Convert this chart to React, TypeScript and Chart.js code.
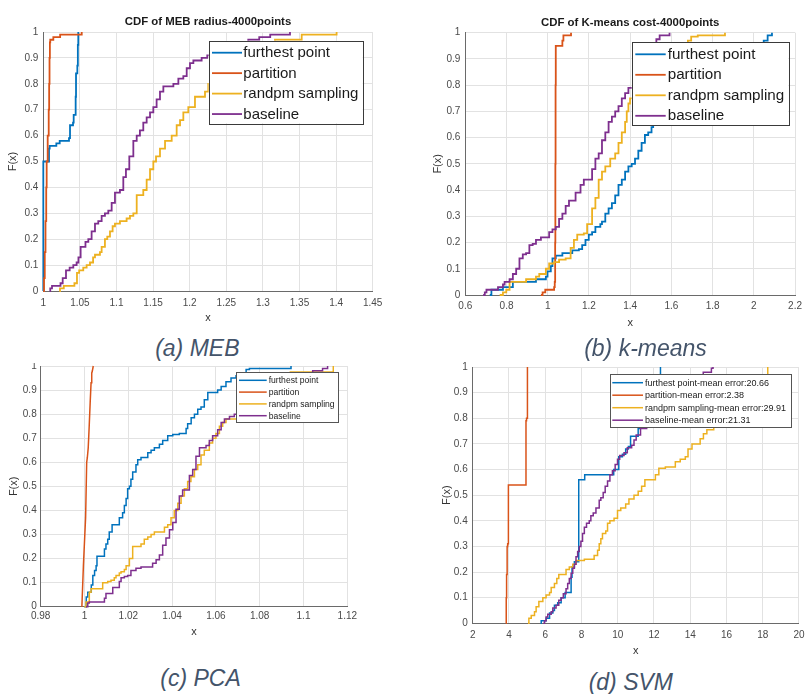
import React, { useEffect, useRef } from 'react';
import { Chart, registerables } from 'chart.js';

Chart.register(...registerables);

const FONT = '"Liberation Sans", Arial, Helvetica, sans-serif';
Chart.defaults.font.family = FONT;

// ---------- shared ----------
const seriesColors = ['#0072BD', '#D95319', '#EDB120', '#7E2F8E'];
const seriesNames = ['furthest point', 'partition', 'randpm sampling', 'baseline'];
const svmMeanErrors = ['20.66', '2.38', '29.91', '21.31'];

const yTicks = [0, 0.1, 0.2, 0.3, 0.4, 0.5, 0.6, 0.7, 0.8, 0.9, 1];
const yTickLabels = ['0', '0.1', '0.2', '0.3', '0.4', '0.5', '0.6', '0.7', '0.8', '0.9', '1'];

// ---------- (a) MEB ----------
const mebXTicks = [1, 1.05, 1.1, 1.15, 1.2, 1.25, 1.3, 1.35, 1.4, 1.45];
const mebXTickLabels = ['1', '1.05', '1.1', '1.15', '1.2', '1.25', '1.3', '1.35', '1.4', '1.45'];

const mebFurthestX = [1.0, 1.0, 1.0078, 1.0087, 1.0178, 1.0224, 1.0351, 1.0365, 1.0406, 1.0415, 1.0442, 1.0447, 1.0465, 1.0472, 1.0478];
const mebFurthestF = [0, 0.5, 0.55, 0.56, 0.57, 0.58, 0.59, 0.64, 0.65, 0.68, 0.75, 0.84, 0.87, 0.95, 1.0];

const mebPartitionX = [1.0, 1.001, 1.002, 1.003, 1.004, 1.0046, 1.006, 1.0074, 1.008, 1.0085, 1.009, 1.0095, 1.0137, 1.023, 1.0525];
const mebPartitionF = [0, 0.05, 0.15, 0.27, 0.4, 0.5, 0.6, 0.7, 0.8, 0.9, 0.96, 0.97, 0.98, 0.99, 1.0];

const mebRandomX = [1.0219, 1.0228, 1.028, 1.0425, 1.046, 1.049, 1.0546, 1.0592, 1.0638, 1.068, 1.0706, 1.0774, 1.0797, 1.0842, 1.0874, 1.0911, 1.0947, 1.0979, 1.1047, 1.1138, 1.1184, 1.123, 1.1276, 1.1366, 1.1412, 1.1458, 1.1503, 1.154, 1.1594, 1.1663, 1.1754, 1.1822, 1.1868, 1.1913, 1.1981, 1.2072, 1.2209, 1.2254, 1.24, 1.26, 1.285, 1.3165, 1.353, 1.4007];
const mebRandomF = [0, 0.01, 0.02, 0.03, 0.07, 0.08, 0.09, 0.1, 0.11, 0.13, 0.14, 0.15, 0.17, 0.2, 0.21, 0.23, 0.25, 0.26, 0.27, 0.28, 0.29, 0.3, 0.37, 0.39, 0.43, 0.47, 0.5, 0.52, 0.55, 0.58, 0.6, 0.64, 0.66, 0.69, 0.71, 0.75, 0.77, 0.8, 0.85, 0.9, 0.94, 0.97, 0.99, 1.0];

const mebBaselineX = [1.0087, 1.0095, 1.0119, 1.0235, 1.0265, 1.031, 1.036, 1.041, 1.0455, 1.048, 1.051, 1.0576, 1.0615, 1.066, 1.0706, 1.0751, 1.0797, 1.0842, 1.0888, 1.0934, 1.0979, 1.1047, 1.1093, 1.1129, 1.1175, 1.123, 1.1276, 1.132, 1.1366, 1.1412, 1.1458, 1.1503, 1.1548, 1.1594, 1.164, 1.1777, 1.1845, 1.1913, 1.1959, 1.2004, 1.205, 1.2163, 1.224, 1.24, 1.255, 1.27, 1.28, 1.295, 1.31, 1.337];
const mebBaselineF = [0, 0.01, 0.02, 0.03, 0.05, 0.08, 0.09, 0.1, 0.11, 0.13, 0.17, 0.19, 0.2, 0.23, 0.26, 0.27, 0.29, 0.3, 0.31, 0.34, 0.38, 0.39, 0.44, 0.47, 0.52, 0.58, 0.6, 0.62, 0.65, 0.67, 0.69, 0.71, 0.74, 0.77, 0.79, 0.8, 0.82, 0.83, 0.86, 0.88, 0.89, 0.9, 0.91, 0.93, 0.95, 0.96, 0.97, 0.98, 0.99, 1.0];

// ---------- (b) k-means ----------
const kmXTicks = [0.6, 0.8, 1, 1.2, 1.4, 1.6, 1.8, 2, 2.2];
const kmXTickLabels = ['0.6', '0.8', '1', '1.2', '1.4', '1.6', '1.8', '2', '2.2'];

const kmFurthestX = [0.7187, 0.7267, 0.7827, 0.8308, 0.9429, 0.9909, 0.9989, 1.0149, 1.0229, 1.039, 1.071, 1.1191, 1.1511, 1.1671, 1.1831, 1.1991, 1.2152, 1.2312, 1.2552, 1.2632, 1.2793, 1.2953, 1.3113, 1.3273, 1.3433, 1.3594, 1.3754, 1.3914, 1.4074, 1.4235, 1.4395, 1.4555, 1.4715, 1.4875, 1.5036, 1.5116, 1.55, 1.6, 1.68, 1.76, 1.85, 1.95, 2.03, 2.048, 2.067, 2.088];
const kmFurthestF = [0, 0.02, 0.03, 0.05, 0.06, 0.07, 0.09, 0.11, 0.14, 0.15, 0.16, 0.17, 0.175, 0.19, 0.21, 0.23, 0.24, 0.26, 0.27, 0.28, 0.31, 0.33, 0.35, 0.38, 0.42, 0.44, 0.47, 0.49, 0.5, 0.52, 0.55, 0.58, 0.61, 0.62, 0.64, 0.65, 0.7, 0.75, 0.8, 0.85, 0.9, 0.94, 0.96, 0.97, 0.99, 1.0];

const kmPartitionX = [0.967, 0.975, 0.988, 1.031, 1.034, 1.036, 1.037, 1.038, 1.039, 1.071, 1.076, 1.113];
const kmPartitionF = [0, 0.01, 0.02, 0.03, 0.05, 0.2, 0.5, 0.8, 0.95, 0.97, 0.99, 1.0];

const kmRandomX = [0.7667, 0.7827, 0.7988, 0.8148, 0.8949, 0.9429, 0.9589, 0.9909, 1.0069, 1.031, 1.055, 1.087, 1.1111, 1.1271, 1.1431, 1.1751, 1.1911, 1.2152, 1.2312, 1.2472, 1.2632, 1.2793, 1.3033, 1.3273, 1.3433, 1.3594, 1.3754, 1.3834, 1.3914, 1.3994, 1.45, 1.5, 1.56, 1.62, 1.66, 1.68, 1.696, 1.728, 1.86];
const kmRandomF = [0, 0.01, 0.02, 0.05, 0.06, 0.07, 0.08, 0.1, 0.12, 0.125, 0.135, 0.14, 0.18, 0.21, 0.23, 0.235, 0.27, 0.33, 0.37, 0.44, 0.47, 0.49, 0.52, 0.54, 0.58, 0.62, 0.66, 0.7, 0.73, 0.75, 0.8, 0.85, 0.9, 0.94, 0.96, 0.97, 0.985, 0.99, 1.0];

const kmBaselineX = [0.6866, 0.6946, 0.7026, 0.7587, 0.7827, 0.7907, 0.8148, 0.8308, 0.8468, 0.8628, 0.8789, 0.8949, 0.9109, 0.9269, 0.9429, 0.9669, 1.0069, 1.0229, 1.039, 1.055, 1.071, 1.087, 1.1031, 1.1351, 1.1591, 1.1751, 1.2152, 1.2312, 1.2472, 1.2632, 1.2793, 1.2953, 1.3113, 1.3273, 1.3433, 1.3594, 1.3754, 1.3914, 1.43, 1.46, 1.49, 1.51, 1.527, 1.543, 1.591];
const kmBaselineF = [0, 0.01, 0.02, 0.03, 0.04, 0.05, 0.06, 0.08, 0.1, 0.14, 0.155, 0.16, 0.19, 0.195, 0.21, 0.22, 0.24, 0.25, 0.26, 0.29, 0.31, 0.34, 0.36, 0.39, 0.42, 0.44, 0.48, 0.52, 0.54, 0.59, 0.62, 0.66, 0.68, 0.7, 0.72, 0.75, 0.77, 0.79, 0.83, 0.88, 0.93, 0.96, 0.975, 0.99, 1.0];

// ---------- (c) PCA ----------
const pcaXTicks = [0.98, 1, 1.02, 1.04, 1.06, 1.08, 1.1, 1.12];
const pcaXTickLabels = ['0.98', '1', '1.02', '1.04', '1.06', '1.08', '1.1', '1.12'];

const pcaFurthestX = [0.9999, 1.0008, 1.0015, 1.0031, 1.0038, 1.0046, 1.0053, 1.0057, 1.0091, 1.0098, 1.0106, 1.0113, 1.0126, 1.0159, 1.0174, 1.0182, 1.019, 1.0197, 1.0205, 1.0212, 1.022, 1.0235, 1.0243, 1.0258, 1.0289, 1.0304, 1.0319, 1.0342, 1.0357, 1.038, 1.0403, 1.0433, 1.0464, 1.0471, 1.0487, 1.0502, 1.0517, 1.0532, 1.0547, 1.0563, 1.0608, 1.0624, 1.0646, 1.0669, 1.0692, 1.0707, 1.0738, 1.0753, 1.0943];
const pcaFurthestF = [0, 0.04, 0.06, 0.09, 0.13, 0.15, 0.17, 0.21, 0.24, 0.26, 0.28, 0.31, 0.34, 0.37, 0.39, 0.42, 0.45, 0.49, 0.5, 0.53, 0.56, 0.59, 0.61, 0.62, 0.64, 0.65, 0.66, 0.675, 0.69, 0.71, 0.715, 0.72, 0.74, 0.76, 0.785, 0.8, 0.82, 0.83, 0.86, 0.89, 0.9, 0.915, 0.935, 0.95, 0.96, 0.97, 0.985, 0.99, 1.0];

const pcaPartitionX = [0.9988, 0.9995, 1.0005, 1.001, 1.0013, 1.0017, 1.0021, 1.0026, 1.003, 1.0033, 1.0036, 1.004];
const pcaPartitionF = [0, 0.17, 0.37, 0.6, 0.62, 0.66, 0.74, 0.85, 0.93, 0.97, 0.98, 1.0];

const pcaRandomX = [0.9999, 1.0007, 1.0022, 1.003, 1.0083, 1.0106, 1.0121, 1.0136, 1.0144, 1.0159, 1.0167, 1.0182, 1.019, 1.0205, 1.022, 1.0258, 1.0273, 1.0289, 1.0304, 1.0319, 1.0365, 1.038, 1.0395, 1.041, 1.0426, 1.0441, 1.0456, 1.0471, 1.0486, 1.0502, 1.0517, 1.0532, 1.0547, 1.057, 1.0585, 1.06, 1.0616, 1.0631, 1.0646, 1.075, 1.08, 1.085, 1.09, 1.094, 1.1136];
const pcaRandomF = [0, 0.02, 0.06, 0.075, 0.1, 0.105, 0.11, 0.12, 0.13, 0.14, 0.145, 0.155, 0.17, 0.2, 0.25, 0.26, 0.28, 0.29, 0.3, 0.31, 0.33, 0.34, 0.37, 0.4, 0.43, 0.46, 0.49, 0.52, 0.54, 0.57, 0.59, 0.63, 0.65, 0.68, 0.7, 0.72, 0.75, 0.765, 0.78, 0.8, 0.85, 0.9, 0.94, 0.975, 1.0];

const pcaBaselineX = [1.0007, 1.0015, 1.0022, 1.0091, 1.0098, 1.0129, 1.0159, 1.0167, 1.0182, 1.0197, 1.0212, 1.0235, 1.0258, 1.0311, 1.0327, 1.0342, 1.0357, 1.0372, 1.0388, 1.0403, 1.0418, 1.0433, 1.0448, 1.0479, 1.0494, 1.0509, 1.0525, 1.0555, 1.057, 1.0585, 1.0608, 1.0624, 1.0639, 1.0662, 1.0684, 1.075, 1.082, 1.09, 1.097, 1.1004, 1.1042, 1.1087, 1.111];
const pcaBaselineF = [0, 0.015, 0.02, 0.035, 0.055, 0.08, 0.105, 0.12, 0.125, 0.13, 0.15, 0.16, 0.165, 0.18, 0.195, 0.215, 0.255, 0.285, 0.32, 0.35, 0.405, 0.46, 0.485, 0.545, 0.57, 0.625, 0.66, 0.67, 0.69, 0.71, 0.735, 0.765, 0.78, 0.79, 0.8, 0.84, 0.88, 0.93, 0.96, 0.97, 0.98, 0.99, 1.0];

// ---------- (d) SVM ----------
const svmXTicks = [2, 4, 6, 8, 10, 12, 14, 16, 18, 20];
const svmXTickLabels = ['2', '4', '6', '8', '10', '12', '14', '16', '18', '20'];

const svmFurthestX = [5.75, 5.78, 6.05, 6.24, 6.42, 6.51, 6.69, 6.88, 7.1, 7.43, 7.48, 7.61, 7.85, 8.18, 9.78, 10.06, 10.26, 10.44, 10.59, 10.71, 11.13, 11.25, 11.35, 11.45, 11.55, 11.68, 12.36];
const svmFurthestF = [0, 0.01, 0.02, 0.04, 0.05, 0.07, 0.08, 0.1, 0.12, 0.18, 0.22, 0.24, 0.56, 0.58, 0.6, 0.65, 0.66, 0.68, 0.69, 0.73, 0.76, 0.8, 0.85, 0.9, 0.94, 0.97, 1.0];

const svmPartitionX = [3.83, 3.85, 3.87, 3.9, 3.93, 3.97, 4.94, 4.97, 5.02];
const svmPartitionF = [0, 0.1, 0.19, 0.3, 0.31, 0.54, 0.79, 0.8, 1.0];

const svmRandomX = [5.05, 5.1, 5.23, 5.41, 5.5, 5.65, 5.87, 6.05, 6.24, 6.33, 6.51, 6.64, 6.75, 7.15, 7.33, 7.52, 7.7, 8.16, 8.7, 8.89, 8.98, 9.07, 9.16, 9.34, 9.44, 9.57, 9.8, 9.99, 10.17, 10.44, 10.62, 10.9, 11.13, 11.32, 11.5, 12.08, 12.27, 12.63, 13.18, 13.45, 13.73, 13.88, 14.1, 14.55, 14.73, 14.92, 15.3, 15.8, 16.3, 16.8, 17.3, 17.8, 18.19, 18.28];
const svmRandomF = [0, 0.02, 0.03, 0.045, 0.065, 0.085, 0.1, 0.11, 0.12, 0.14, 0.155, 0.175, 0.19, 0.21, 0.22, 0.23, 0.245, 0.25, 0.265, 0.285, 0.31, 0.33, 0.35, 0.36, 0.39, 0.4, 0.41, 0.44, 0.45, 0.465, 0.485, 0.5, 0.515, 0.535, 0.56, 0.58, 0.605, 0.61, 0.63, 0.64, 0.65, 0.68, 0.7, 0.72, 0.74, 0.755, 0.79, 0.83, 0.87, 0.9, 0.93, 0.95, 0.97, 1.0];

const svmBaselineX = [5.9, 5.96, 6.05, 6.14, 6.33, 6.42, 6.6, 6.75, 6.88, 7.0, 7.15, 7.24, 7.33, 7.43, 7.52, 7.61, 7.7, 7.79, 7.88, 7.97, 8.06, 8.16, 8.28, 8.43, 8.52, 8.65, 8.8, 8.98, 9.07, 9.2, 9.31, 9.44, 9.57, 9.71, 9.86, 9.99, 10.11, 10.35, 10.53, 10.77, 10.9, 11.02, 11.26, 11.6, 12.0, 12.5, 13.0, 13.5, 14.0, 14.5, 14.72, 15.17, 15.26];
const svmBaselineF = [0, 0.01, 0.025, 0.035, 0.045, 0.06, 0.07, 0.09, 0.1, 0.115, 0.135, 0.155, 0.175, 0.195, 0.215, 0.23, 0.26, 0.28, 0.3, 0.32, 0.35, 0.375, 0.39, 0.4, 0.42, 0.43, 0.45, 0.48, 0.49, 0.51, 0.535, 0.555, 0.58, 0.595, 0.62, 0.64, 0.655, 0.665, 0.685, 0.695, 0.715, 0.735, 0.76, 0.8, 0.84, 0.88, 0.91, 0.94, 0.955, 0.97, 0.98, 0.995, 1.0];

// ---------- legend drawn inside the axes (MATLAB style) ----------
const boxLegend: any = {
  id: 'boxLegend',
  afterDatasetsDraw(chart: any, _args: any, o: any) {
    if (!o || !o.w) return;
    const ctx = chart.ctx;
    ctx.save();
    ctx.fillStyle = '#ffffff';
    ctx.fillRect(o.x, o.y, o.w, o.h);
    ctx.strokeStyle = o.borderColor;
    ctx.lineWidth = 1;
    ctx.strokeRect(Math.round(o.x) + 0.5, Math.round(o.y) + 0.5, Math.round(o.w), Math.round(o.h));
    ctx.font = `${o.fontSize}px ${FONT}`;
    ctx.textBaseline = 'middle';
    ctx.textAlign = 'left';
    chart.data.datasets.forEach((ds: any, i: number) => {
      const y = o.y + o.first + i * o.gap;
      ctx.strokeStyle = ds.borderColor;
      ctx.lineWidth = o.lineWidth;
      ctx.beginPath();
      ctx.moveTo(o.x + o.lineStart, y);
      ctx.lineTo(o.x + o.lineEnd, y);
      ctx.stroke();
      ctx.fillStyle = '#1a1a1a';
      ctx.fillText(ds.label, o.x + o.textStart, y + 0.5);
    });
    ctx.restore();
  },
};

function buildConfig(s: any) {
  const W = s.canvas.w;
  const H = s.canvas.h;
  const L = s.area.l - s.canvas.x;
  const R = s.area.r - s.canvas.x;
  const T = s.area.t - s.canvas.y;
  const B = s.area.b - s.canvas.y;
  const titleFont = 11.4;
  const titleLH = titleFont * 1.2;
  const axisFont = 11;
  const axisLH = axisFont * 1.2;
  let padTop = T;
  let titleOpts: any = { display: false };
  if (s.title) {
    const cyT = s.title.cy - s.canvas.y;
    const pt = cyT - titleLH / 2;
    const pb = T - pt - titleLH;
    padTop = 0;
    titleOpts = {
      display: true,
      text: s.title.text,
      fullSize: false,
      font: { size: titleFont, weight: 'bold', family: FONT },
      color: '#1a1a1a',
      padding: { top: pt, bottom: pb },
    };
  }
  const gridOpts = { color: '#e2e2e2', lineWidth: 1, drawTicks: false };
  const borderOpts = { display: true, color: '#6a6a6a', width: 1 };
  const tickFont = { size: 10, family: FONT };
  const lg = s.legend;
  return {
    type: 'line',
    data: {
      datasets: s.series.map((ser: any, i: number) => ({
        label: ser.label,
        data: ser.xs.map((x: number, k: number) => ({ x, y: ser.fs[k] })),
        borderColor: seriesColors[i],
        backgroundColor: seriesColors[i],
        borderWidth: s.lineWidth,
        pointRadius: 0,
        pointHoverRadius: 0,
        stepped: ser.stepped === false ? false : 'before',
        fill: false,
        tension: 0,
        clip: 6,
        order: 3 - i,
      })),
    },
    options: {
      responsive: false,
      maintainAspectRatio: false,
      animation: false,
      events: [],
      layout: { padding: { left: 0, top: padTop, right: W - R, bottom: 0 } },
      plugins: {
        legend: { display: false },
        tooltip: { enabled: false },
        title: titleOpts,
        boxLegend: {
          x: lg.x - s.canvas.x,
          y: lg.y - s.canvas.y,
          w: lg.w,
          h: lg.h,
          first: lg.first,
          gap: lg.gap,
          lineStart: lg.lineStart,
          lineEnd: lg.lineEnd,
          textStart: lg.textStart,
          fontSize: lg.fontSize,
          lineWidth: lg.lineWidth,
          borderColor: lg.borderColor,
        },
      },
      scales: {
        x: {
          type: 'linear',
          min: s.xMin,
          max: s.xMax,
          afterBuildTicks: (sc: any) => {
            sc.ticks = s.xTicks.map((v: number) => ({ value: v }));
          },
          afterFit: (sc: any) => {
            sc.height = H - B;
          },
          ticks: {
            autoSkip: false,
            maxRotation: 0,
            minRotation: 0,
            padding: s.xTickPad,
            color: '#4a4a4a',
            font: tickFont,
            callback: (_v: any, idx: number) => s.xLabels[idx],
          },
          grid: gridOpts,
          border: borderOpts,
          title: {
            display: true,
            text: 'x',
            color: '#333333',
            font: { size: axisFont, family: FONT },
            padding: { top: 0, bottom: H - (s.xTitleY - s.canvas.y) - axisLH / 2 },
          },
        },
        y: {
          type: 'linear',
          min: 0,
          max: 1,
          afterBuildTicks: (sc: any) => {
            sc.ticks = yTicks.map((v) => ({ value: v }));
          },
          afterFit: (sc: any) => {
            sc.width = L;
          },
          ticks: {
            autoSkip: false,
            padding: s.yTickPad,
            color: '#4a4a4a',
            font: tickFont,
            callback: (_v: any, idx: number) => yTickLabels[idx],
          },
          grid: gridOpts,
          border: borderOpts,
          title: {
            display: true,
            text: 'F(x)',
            color: '#333333',
            font: { size: axisFont, family: FONT },
            padding: { top: s.yTitleX - s.canvas.x - axisLH / 2, bottom: 0 },
          },
        },
      },
    },
    plugins: [boxLegend],
  };
}

const mkSeries = (xs: number[][], fs: number[][], labels: string[], stepped: boolean[] = [true, true, true, true]) =>
  xs.map((x, i) => ({ label: labels[i], xs: x, fs: fs[i], stepped: stepped[i] }));

const specs: any[] = [
  {
    canvas: { x: 0, y: 0, w: 400, h: 330 },
    area: { l: 43.3, t: 32, r: 372.7, b: 291 },
    title: { text: 'CDF of MEB radius-4000points', cy: 22 },
    xMin: 1, xMax: 1.45, xTicks: mebXTicks, xLabels: mebXTickLabels,
    xTickPad: 6, yTickPad: 5, xTitleY: 318, yTitleX: 13.3, lineWidth: 1.8,
    series: mkSeries(
      [mebFurthestX, mebPartitionX, mebRandomX, mebBaselineX],
      [mebFurthestF, mebPartitionF, mebRandomF, mebBaselineF],
      seriesNames
    ),
    legend: { x: 208.7, y: 40.7, w: 154, h: 82.6, first: 12, gap: 20.45, lineStart: 3.3, lineEnd: 33.3, textStart: 34.6, fontSize: 15, lineWidth: 1.8, borderColor: '#3a3a3a' },
  },
  {
    canvas: { x: 400, y: 0, w: 407, h: 335 },
    area: { l: 465.3, t: 32.7, r: 798.3, b: 295 },
    title: { text: 'CDF of K-means cost-4000points', cy: 22.7 },
    xMin: 0.6, xMax: 2.2, xTicks: kmXTicks, xLabels: kmXTickLabels,
    xTickPad: 5, yTickPad: 5, xTitleY: 322.7, yTitleX: 438.3, lineWidth: 1.8,
    series: mkSeries(
      [kmFurthestX, kmPartitionX, kmRandomX, kmBaselineX],
      [kmFurthestF, kmPartitionF, kmRandomF, kmBaselineF],
      seriesNames
    ),
    legend: { x: 631.7, y: 42.3, w: 156.6, h: 83.4, first: 12, gap: 20.5, lineStart: 3.6, lineEnd: 34, textStart: 36, fontSize: 15.2, lineWidth: 1.8, borderColor: '#3a3a3a' },
  },
  {
    canvas: { x: 0, y: 356, w: 400, h: 290 },
    area: { l: 40.7, t: 364.3, r: 347.3, b: 606.7 },
    xMin: 0.98, xMax: 1.12, xTicks: pcaXTicks, xLabels: pcaXTickLabels,
    xTickPad: 4, yTickPad: 4, xTitleY: 631.7, yTitleX: 14, lineWidth: 1.5,
    series: mkSeries(
      [pcaFurthestX, pcaPartitionX, pcaRandomX, pcaBaselineX],
      [pcaFurthestF, pcaPartitionF, pcaRandomF, pcaBaselineF],
      seriesNames,
      [true, false, true, true]
    ),
    legend: { x: 236.3, y: 372.3, w: 101.7, h: 49.7, first: 8, gap: 11.8, lineStart: 2.7, lineEnd: 30.4, textStart: 32.4, fontSize: 8.6, lineWidth: 1.5, borderColor: '#555555' },
  },
  {
    canvas: { x: 430, y: 356, w: 380, h: 310 },
    area: { l: 472.7, t: 364.7, r: 801, b: 623.3 },
    xMin: 2, xMax: 20, xTicks: svmXTicks, xLabels: svmXTickLabels,
    xTickPad: 5.5, yTickPad: 5, xTitleY: 651, yTitleX: 446.7, lineWidth: 1.5,
    series: mkSeries(
      [svmFurthestX, svmPartitionX, svmRandomX, svmBaselineX],
      [svmFurthestF, svmPartitionF, svmRandomF, svmBaselineF],
      seriesNames.map((n, i) => `${n}-mean error:${svmMeanErrors[i]}`)
    ),
    legend: { x: 610, y: 374.3, w: 181, h: 52.7, first: 8.4, gap: 12.5, lineStart: 2.3, lineEnd: 33, textStart: 35, fontSize: 9, lineWidth: 1.5, borderColor: '#555555' },
  },
];

const captions = [
  { text: '(a) MEB', cx: 197.3, cy: 348 },
  { text: '(b) k-means', cx: 645.5, cy: 347.5 },
  { text: '(c) PCA', cx: 200.5, cy: 678 },
  { text: '(d) SVM', cx: 630.8, cy: 681.7 },
];

const PCA_CLIP_TOP = 363;

export default function App() {
  const r0 = useRef<HTMLCanvasElement | null>(null);
  const r1 = useRef<HTMLCanvasElement | null>(null);
  const r2 = useRef<HTMLCanvasElement | null>(null);
  const r3 = useRef<HTMLCanvasElement | null>(null);
  const refs = [r0, r1, r2, r3];

  useEffect(() => {
    const charts = specs.map((s, i) => new Chart(refs[i].current as HTMLCanvasElement, buildConfig(s) as any));
    return () => charts.forEach((c) => c.destroy());
  }, []);

  const canvasEl = (i: number, left: number, top: number) => {
    const s = specs[i];
    return (
      <canvas
        ref={refs[i]}
        width={s.canvas.w}
        height={s.canvas.h}
        style={{ position: 'absolute', left, top, width: s.canvas.w, height: s.canvas.h, display: 'block' }}
      />
    );
  };

  return (
    <div
      style={{
        position: 'absolute',
        left: 0,
        top: 0,
        width: 807,
        height: 694,
        overflow: 'hidden',
        background: '#ffffff',
      }}
    >
      {canvasEl(0, specs[0].canvas.x, specs[0].canvas.y)}
      {canvasEl(1, specs[1].canvas.x, specs[1].canvas.y)}
      <div
        style={{
          position: 'absolute',
          left: 0,
          top: PCA_CLIP_TOP,
          width: specs[2].canvas.w,
          height: specs[2].canvas.y + specs[2].canvas.h - PCA_CLIP_TOP,
          overflow: 'hidden',
        }}
      >
        {canvasEl(2, 0, specs[2].canvas.y - PCA_CLIP_TOP)}
      </div>
      {canvasEl(3, specs[3].canvas.x, specs[3].canvas.y)}
      {captions.map((c) => (
        <div
          key={c.text}
          style={{
            position: 'absolute',
            left: c.cx - 120,
            top: c.cy - 14,
            width: 240,
            height: 28,
            lineHeight: '28px',
            textAlign: 'center',
            fontFamily: FONT,
            fontStyle: 'italic',
            fontSize: 23,
            color: '#44546a',
            whiteSpace: 'nowrap',
          }}
        >
          {c.text}
        </div>
      ))}
    </div>
  );
}
